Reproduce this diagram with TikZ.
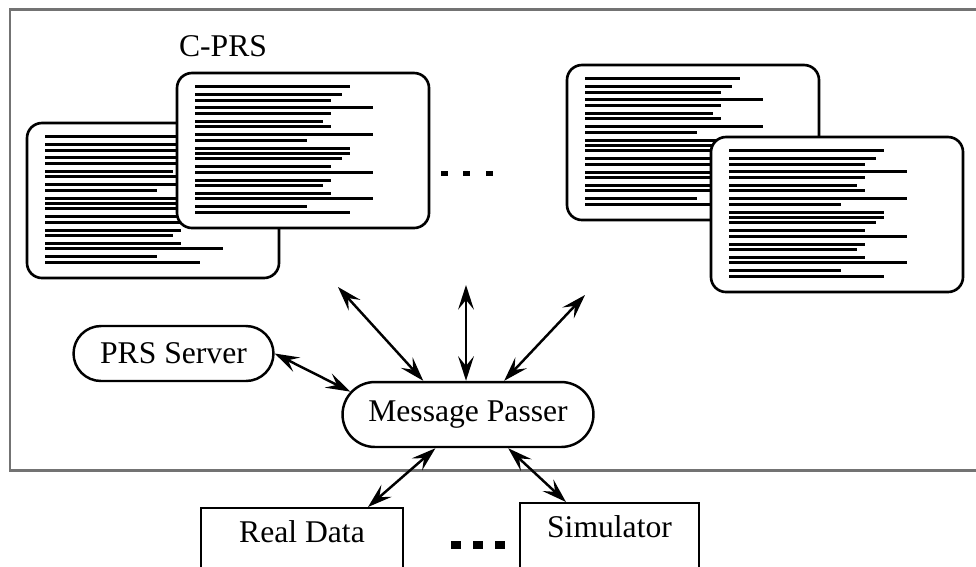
\documentclass[tikz,border=0pt]{standalone}
\usepackage{fontspec}
\setmainfont{Liberation Serif}
\usetikzlibrary{arrows.meta,shapes.misc}

\tikzset{
	link/.style={{Stealth[length=14pt,width=9pt,inset=5.5pt]}-{Stealth[length=14pt,width=9pt,inset=5.5pt]}, line width=1.4pt},
	pill/.style={draw, rounded rectangle, line width=1.4pt, inner sep=2pt},
	iobox/.style={draw, rectangle, line width=1.4pt, inner sep=7pt, text depth=40pt},
}

% one rule sheet: frame and its lines
\newcommand{\prsdoc}[2]{
	\begin{scope}[shift={(#1,#2)}]
		\draw[fill=white, line width=1.5pt, rounded corners=0.3cm] (0,0) rectangle (252,155);
		\foreach \dy/\w in {0/155,8/147,14/136,21/178,27/136,35/128,40/136,48/178,54/112,62/155,
			67/155,72/147,80/136,86/178,94/136,99/128,107/136,112/178,120/112,126/155}
			\draw[line width=1.5pt] (18,13.5+\dy) -- ++(\w,0);
	\end{scope}
}

\begin{document}
\begin{tikzpicture}[x=0.02cm, y=-0.02cm, every node/.style={font=\fontsize{18}{20}\selectfont}]
	\useasboundingbox[clip] (0,0) rectangle (976,566);
	
	%Frame
	%------------------------------------------------------
	\draw[color=black!55, line width=1.7pt] (990,9) -- (10,9) -- (10,470) -- (990,470);
	
	\node (CPRS) at (223,46) {C-PRS};
	
	%Sheets
	%------------------------------------------------------
	\prsdoc{27}{123}
	\prsdoc{177}{73}
	\prsdoc{567}{65}
	\prsdoc{711}{137}
	
	%Dots
	\foreach \x in {444.5,466,489.5} \fill (\x-3.5,171) rectangle (\x+3.5,176);
	\foreach \x in {456,478,500} \fill (\x-5,541) rectangle (\x+5,549);
	
	%Nodes
	%------------------------------------------------------
	\node[pill, minimum width=4.14cm, minimum height=1.1cm] (PRS) at (173.5,353.5) {PRS Server};
	\node[pill, minimum width=5.16cm, minimum height=1.3cm] (MP) at (468,414.5) {Message Passer};
	\node[iobox, minimum width=4.04cm, anchor=north] (RealData) at (302,507) {Real Data};
	\node[iobox, minimum width=3.58cm, anchor=north] (Sim) at (609.5,502) {Simulator};
	
	\coordinate (DocL) at (338,287);
	\coordinate (DocM) at (466,285);
	\coordinate (DocR) at (585,295);
	
	%Arrows
	%------------------------------------------------------
	\draw[link] (PRS.east) -- (MP.169);
	\draw[link] (DocL) -- (MP.143);
	\draw[link] (DocM) -- (DocM |- MP.north);
	\draw[link] (DocR) -- (MP.43);
	\draw[link] (MP.-134) -- ([xshift=1.32cm]RealData.north);
	\draw[link] (MP.-40) -- ([xshift=-0.87cm]Sim.north);
	
\end{tikzpicture}
\end{document}
